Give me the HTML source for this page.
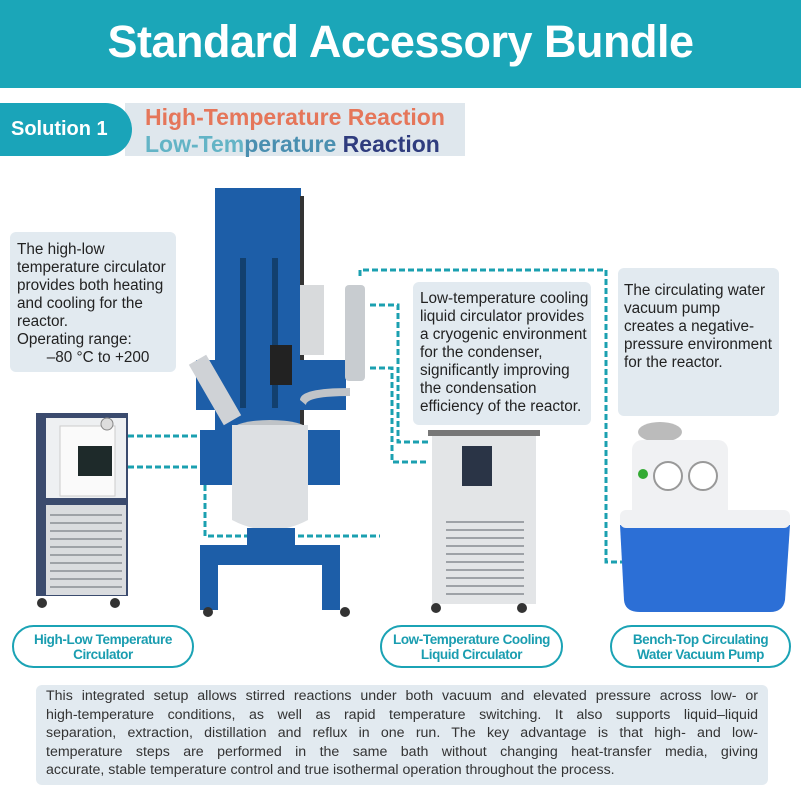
<!DOCTYPE html>
<html><head><meta charset="utf-8"><style>
*{margin:0;padding:0;box-sizing:border-box}
body{width:801px;height:801px;background:#fff;position:relative;overflow:hidden;font-family:"Liberation Sans",sans-serif}
.abs{position:absolute}
.hdr{left:0;top:0;width:801px;height:88px;background:#1ba6b8;color:#fff;font-weight:bold;font-size:45px;text-align:center;line-height:84px;letter-spacing:-0.5px}
.box{background:#e2eaf0;border-radius:6px;color:#222;font-size:15.3px;line-height:18px;white-space:nowrap}
.pill{border:2.5px solid #1ba3b5;border-radius:22px;color:#1a9db0;font-weight:bold;font-size:13.5px;text-align:center;line-height:15px;padding-top:5px;letter-spacing:-0.4px}
.j{text-align:justify;text-align-last:justify;white-space:nowrap}
</style></head><body>
<div class="abs hdr">Standard Accessory Bundle</div>
<div class="abs" style="left:125px;top:103px;width:340px;height:53px;background:#dfe7ed"></div>
<div class="abs" style="left:0;top:103px;width:132px;height:53px;background:#1aa4b9;border-radius:0 27px 27px 0;color:#fff;font-weight:bold;font-size:20px;line-height:53px;padding-left:11px">Solution 1</div>
<div class="abs" style="left:145px;top:104px;font-weight:bold;font-size:23px;line-height:26px;color:#e5765a">High-Temperature Reaction</div>
<div class="abs" style="left:145px;top:131px;font-weight:bold;font-size:23px;line-height:26px;color:#4a8fb0"><span style="color:#63b4c6">Low-Tem</span>perature <span style="color:#2f3c7e">Reaction</span></div>

<div class="abs box" style="left:10px;top:232px;width:166px;height:140px;padding:9px 7px">The high-low<br>temperature circulator<br>provides both heating<br>and cooling for the<br>reactor.<br>Operating range:<br>&nbsp;&nbsp;&nbsp;&nbsp;&nbsp;&nbsp;&nbsp;–80 °C to +200</div>
<div class="abs box" style="left:413px;top:282px;width:178px;height:143px;padding:8px 7px">Low-temperature cooling<br>liquid circulator provides<br>a cryogenic environment<br>for the condenser,<br>significantly improving<br>the condensation<br>efficiency of the reactor.</div>
<div class="abs box" style="left:618px;top:268px;width:161px;height:148px;padding:14px 6px">The circulating water<br>vacuum pump<br>creates a negative-<br>pressure environment<br>for the reactor.</div>

<svg class="abs" style="left:0;top:0" width="801" height="801">
<g fill="none" stroke="#1ba0b0" stroke-width="3" stroke-dasharray="6,3">
<path d="M128 436H205V536H380"/>
<path d="M128 467H223V481H238"/>
<path d="M360 276V270H606V562H660"/>
<path d="M370 305H398V442H428"/>
<path d="M370 368H392V462H428"/>
</g>
<rect x="36" y="413" width="92" height="183" fill="#3b4b6e"/>
<rect x="46" y="418" width="80" height="80" fill="#eef0f2"/>
<rect x="60" y="426" width="55" height="70" fill="#fafafa" stroke="#ccc"/>
<rect x="78" y="446" width="34" height="30" fill="#1e2a2a"/>
<circle cx="107" cy="424" r="6" fill="#ddd" stroke="#888"/>
<rect x="46" y="505" width="80" height="90" fill="#dadcdf"/>
<g stroke="#9ea2a7" stroke-width="2"><path d="M50 515H122M50 523H122M50 531H122M50 539H122M50 547H122M50 555H122M50 563H122M50 571H122M50 579H122M50 587H122"/></g>
<circle cx="42" cy="603" r="5" fill="#333"/><circle cx="115" cy="603" r="5" fill="#333"/>
<rect x="215" y="188" width="86" height="260" fill="#1d5ea8"/>
<rect x="300" y="196" width="4" height="240" fill="#333"/>
<rect x="196" y="360" width="150" height="50" fill="#1d5ea8"/>
<rect x="240" y="258" width="6" height="150" fill="#12406f"/>
<rect x="272" y="258" width="6" height="150" fill="#12406f"/>
<rect x="270" y="345" width="22" height="40" fill="#222"/>
<rect x="300" y="285" width="24" height="70" fill="#d8dadc"/>
<rect x="345" y="285" width="20" height="96" rx="4" fill="#c8ccd0"/>
<rect x="205" y="355" width="20" height="70" fill="#cfd2d6" transform="rotate(-30 215 390)"/>
<path d="M300 400Q300 388 350 388V396Q306 396 306 405Z" fill="#c0c4c8"/>
<rect x="200" y="430" width="140" height="55" fill="#1d5ea8"/>
<ellipse cx="270" cy="430" rx="38" ry="10" fill="#bfc3c7"/>
<path d="M232 425H308V520Q270 540 232 520Z" fill="#dde0e3"/>
<rect x="247" y="528" width="48" height="20" fill="#1d5ea8"/>
<rect x="200" y="545" width="140" height="20" fill="#1d5ea8"/>
<rect x="200" y="545" width="18" height="65" fill="#1d5ea8"/>
<rect x="322" y="545" width="18" height="65" fill="#1d5ea8"/>
<circle cx="208" cy="612" r="5" fill="#333"/><circle cx="345" cy="612" r="5" fill="#333"/>
<rect x="428" y="430" width="112" height="6" fill="#777"/>
<rect x="432" y="436" width="104" height="168" fill="#e3e5e7"/>
<rect x="462" y="446" width="30" height="40" fill="#2a3446"/>
<g stroke="#9ea2a7" stroke-width="2"><path d="M446 522H524M446 530H524M446 538H524M446 546H524M446 554H524M446 562H524M446 570H524M446 578H524M446 586H524M446 594H524"/></g>
<circle cx="436" cy="608" r="5" fill="#333"/><circle cx="522" cy="608" r="5" fill="#333"/>
<ellipse cx="660" cy="432" rx="22" ry="10" fill="#bbb"/>
<rect x="632" y="440" width="96" height="90" rx="10" fill="#f0f1f3"/>
<circle cx="668" cy="476" r="14" fill="#fff" stroke="#999" stroke-width="2"/>
<circle cx="703" cy="476" r="14" fill="#fff" stroke="#999" stroke-width="2"/>
<circle cx="643" cy="474" r="5" fill="#3a3"/>
<path d="M620 525H790L785 600Q783 612 770 612H640Q625 612 624 600Z" fill="#2c6fd6"/>
<rect x="620" y="510" width="170" height="18" rx="6" fill="#f0f1f3"/>
</svg>

<div class="abs pill" style="left:12px;top:625px;width:182px;height:43px">High-Low Temperature<br>Circulator</div>
<div class="abs pill" style="left:380px;top:625px;width:183px;height:43px">Low-Temperature Cooling<br>Liquid Circulator</div>
<div class="abs pill" style="left:610px;top:625px;width:181px;height:43px">Bench-Top Circulating<br>Water Vacuum Pump</div>

<div class="abs box" style="left:36px;top:685px;width:732px;height:100px;padding:2px 10px;font-size:14.2px;line-height:18.6px;color:#333">
<div class="j">This integrated setup allows stirred reactions under both vacuum and elevated pressure across low- or</div>
<div class="j">high-temperature conditions, as well as rapid temperature switching. It also supports liquid–liquid</div>
<div class="j">separation, extraction, distillation and reflux in one run. The key advantage is that high- and low-</div>
<div class="j">temperature steps are performed in the same bath without changing heat-transfer media, giving</div>
<div style="white-space:nowrap">accurate, stable temperature control and true isothermal operation throughout the process.</div>
</div>
</body></html>
